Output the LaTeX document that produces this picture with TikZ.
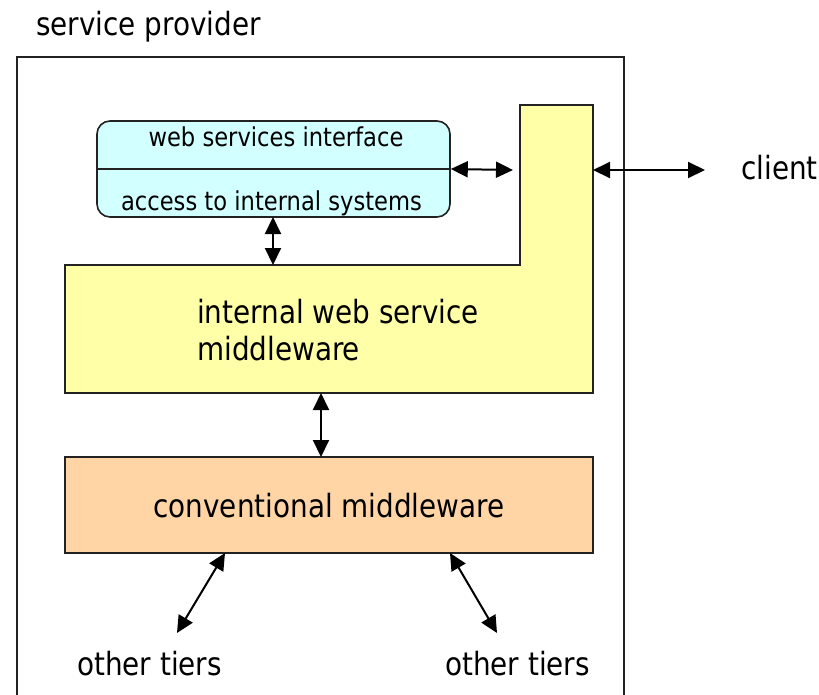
\documentclass[tikz,border=0pt]{standalone}
\usepackage{fontspec}
\setmainfont{DejaVu Sans}[FakeStretch=0.87]
\usetikzlibrary{arrows.meta}
\definecolor{boxyellow}{HTML}{FFFFA8}
\definecolor{boxcyan}{HTML}{D2FFFF}
\definecolor{boxorange}{HTML}{FFD5A6}
\definecolor{edge}{HTML}{222222}
\begin{document}
\begin{tikzpicture}[x=1pt,y=-1pt,
  big/.style={font=\fontsize{32}{37}\selectfont, inner sep=0pt},
  small/.style={font=\fontsize{26}{30}\selectfont, inner sep=0pt},
  conn/.style={line width=2pt, {Triangle[length=17pt,width=16pt]}-{Triangle[length=17pt,width=16pt]}},
  frame/.style={line width=1.6pt, draw=edge}]
\useasboundingbox (0,0) rectangle (819,694);
% outer frame (open at the bottom)
\draw[frame] (17,720) |- (624,57) -- (624,720);
\node[big, anchor=base west] (sp) at (36,35) {service provider};
% internal web service middleware (L shape)
\draw[frame, fill=boxyellow] (65,265) -- (520,265) -- (520,105) -- (593,105) -- (593,393) -- (65,393) -- cycle;
\coordinate (ycolL) at (513,170);
\coordinate (ycolR) at (593,170);
\coordinate (ytop) at (273,265);
\coordinate (ybot) at (321,393);
\node[big, anchor=base west] (mw) at (197,323) {\begin{tabular}[t]{@{}l@{}}internal web service\\middleware\end{tabular}};
% web services box
\node[frame, fill=boxcyan, rounded corners=13pt, minimum width=353pt, minimum height=96pt, inner sep=0pt] (ws) at (273.5,169) {};
\draw[frame] (ws.west) -- (ws.east);
\node[small, anchor=base] (wsi) at (276,146.5) {web services interface};
\node[small, anchor=base] (ati) at (271.5,210) {access to internal systems};
\coordinate (wsb) at (273,217);
% conventional middleware
\node[frame, fill=boxorange, minimum width=528pt, minimum height=96pt, inner sep=0pt] (cm) at (329,505) {};
\node[big, anchor=base] (cmt) at (329,517) {conventional middleware};
\coordinate (cmtop) at (321,457);
\coordinate (cmb1) at (225,553);
\coordinate (cmb2) at (450,553);
% client and other tiers
\node[big, anchor=base west] (cl) at (741,179) {client};
\coordinate (clend) at (705,170);
\node[big, anchor=base west] (ot1) at (77,675) {other tiers};
\node[big, anchor=base west] (ot2) at (445,675) {other tiers};
\coordinate (t1) at (177,633);
\coordinate (t2) at (497,633);
% connectors
\draw[conn] (ws.east) -- (ycolL);
\draw[conn] (ycolR) -- (clend);
\draw[conn] (wsb) -- (ytop);
\draw[conn] (ybot) -- (cmtop);
\draw[conn] (cmb1) -- (t1);
\draw[conn] (cmb2) -- (t2);
\end{tikzpicture}
\end{document}
